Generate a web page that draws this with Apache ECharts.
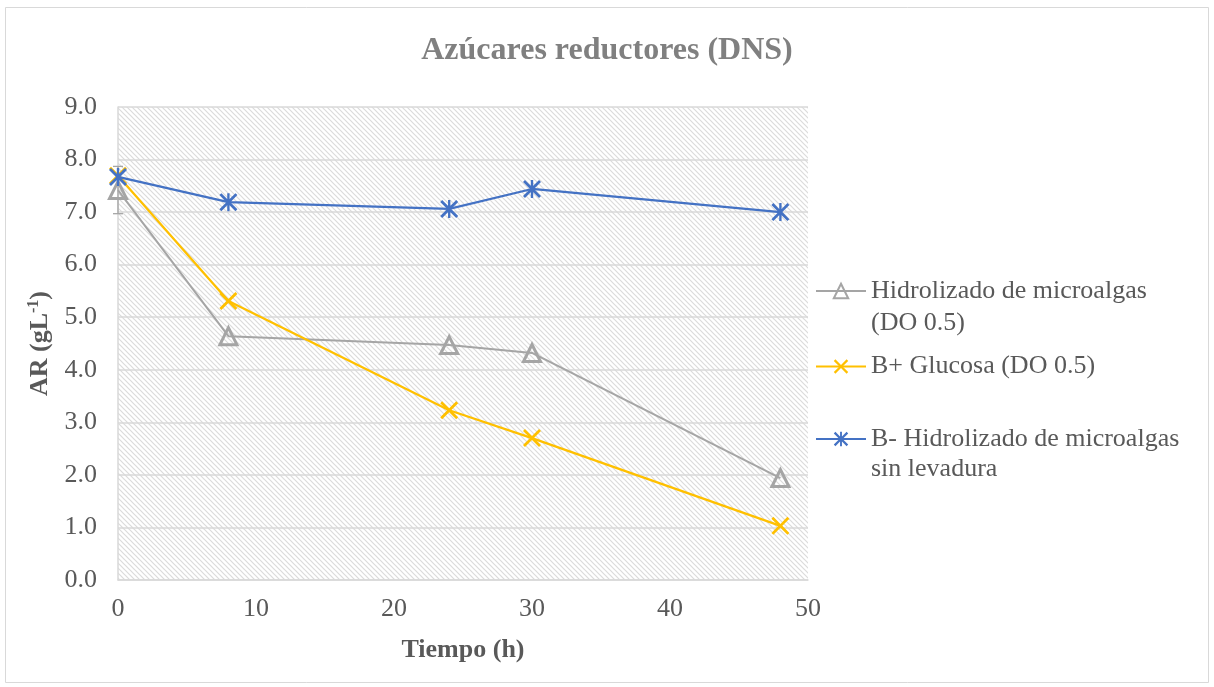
<!DOCTYPE html>
<html>
<head>
<meta charset="utf-8">
<script src="https://cdn.jsdelivr.net/npm/echarts@6/dist/echarts.min.js"></script>
<style>
html,body{margin:0;padding:0;background:#fff;}
#chart{width:1214px;height:687px;}
</style>
</head>
<body>
<div id="chart"></div>
<script>
// ---- data ----
const timeHours = [0, 8, 24, 30, 48];
const hidrolizado = [7.42, 4.64, 4.47, 4.32, 1.94];
const glucosa = [7.69, 5.31, 3.23, 2.70, 1.03];
const sinLevadura = [7.67, 7.19, 7.06, 7.44, 7.00];
const hidrolizadoErrAt0 = 0.45;
const seriesNames = ['Hidrolizado de microalgas\n(DO 0.5)', 'B+ Glucosa (DO 0.5)', 'B- Hidrolizado de microalgas\nsin levadura'];
const yTicks = [0, 1, 2, 3, 4, 5, 6, 7, 8, 9];
const xTicks = [0, 10, 20, 30, 40, 50];

// ---- hatch pattern ----
const pc = document.createElement('canvas');
pc.width = 5; pc.height = 5;
const g = pc.getContext('2d');
g.fillStyle = '#ffffff'; g.fillRect(0, 0, 5, 5);
g.strokeStyle = '#dbdbdb'; g.lineWidth = 1.2;
g.beginPath();
g.moveTo(-1, -1); g.lineTo(6, 6);
g.moveTo(-1, 4); g.lineTo(1, 6);
g.moveTo(4, -1); g.lineTo(6, 1);
g.stroke();

const FONT = '"Liberation Serif", "Times New Roman", serif';
const XPATH = 'path://M0,2.2 L2.2,0 L10,7.8 L17.8,0 L20,2.2 L12.2,10 L20,17.8 L17.8,20 L10,12.2 L2.2,20 L0,17.8 L7.8,10 Z';
const STARPATH = 'path://M0,2.2 L2.2,0 L10,7.8 L17.8,0 L20,2.2 L12.2,10 L20,17.8 L17.8,20 L10,12.2 L2.2,20 L0,17.8 L7.8,10 Z M8.7,0 L11.3,0 L11.3,20 L8.7,20 Z';

const pairs = (ys) => timeHours.map((t, i) => [t, ys[i]]);

const chart = echarts.init(document.getElementById('chart'), null, {renderer: 'canvas'});

function legendFor(name, top, lh) {
  return {
    show: true,
    orient: 'vertical',
    left: 815,
    top: top,
    padding: 0,
    itemWidth: 50,
    itemHeight: 18,
    itemGap: 0,
    data: [name],
    formatter: (n) => n.indexOf('\n') >= 0 ? '\n' + n : n,
    textStyle: {fontFamily: FONT, fontSize: 26, color: '#595959', lineHeight: lh}
  };
}

const option = {
  animation: false,
  backgroundColor: '#ffffff',
  title: {
    text: 'Azúcares reductores (DNS)',
    left: 'center',
    top: 30,
    textStyle: {fontFamily: FONT, fontSize: 32, fontWeight: 'bold', color: '#808080'}
  },
  graphic: [{
    type: 'rect',
    shape: {x: 5.5, y: 7.5, width: 1203, height: 675},
    style: {fill: 'none', stroke: '#d9d9d9', lineWidth: 1},
    silent: true,
    z: -10
  }],
  legend: [
    legendFor(seriesNames[0], 243, 32),
    legendFor(seriesNames[1], 351, 31),
    legendFor(seriesNames[2], 394, 30)
  ],
  grid: {
    left: 118, right: 406, top: 107, bottom: 107,
    show: true,
    backgroundColor: {image: pc, repeat: 'repeat'},
    borderWidth: 0
  },
  xAxis: {
    type: 'value',
    min: 0, max: 50, interval: 10,
    name: 'Tiempo (h)',
    nameLocation: 'middle',
    nameGap: 57,
    nameTextStyle: {fontFamily: FONT, fontSize: 26, fontWeight: 'bold', color: '#595959'},
    axisLine: {show: true, lineStyle: {color: '#d9d9d9', width: 1.5}},
    axisTick: {show: false},
    splitLine: {show: false},
    axisLabel: {fontFamily: FONT, fontSize: 26, color: '#595959', margin: 16,
      formatter: (v) => xTicks.indexOf(v) >= 0 ? String(v) : ''}
  },
  yAxis: {
    type: 'value',
    min: 0, max: 9, interval: 1,
    name: '{b|AR (gL}{s|-1}{b|)}',
    nameLocation: 'middle',
    nameRotate: 90,
    nameGap: 64,
    nameTextStyle: {
      rich: {
        b: {fontFamily: FONT, fontSize: 26, fontWeight: 'bold', color: '#595959', lineHeight: 28, verticalAlign: 'bottom'},
        s: {fontFamily: FONT, fontSize: 16, fontWeight: 'bold', color: '#595959', lineHeight: 28, verticalAlign: 'top', padding: [0, 0, 10, 0]}
      }
    },
    axisLine: {show: true, lineStyle: {color: '#d9d9d9', width: 1.5}},
    axisTick: {show: false},
    splitLine: {show: true, lineStyle: {color: '#d9d9d9', width: 1.5}},
    axisLabel: {fontFamily: FONT, fontSize: 26, color: '#595959', margin: 21,
      formatter: (v) => yTicks.indexOf(v) >= 0 ? v.toFixed(1) : ''}
  },
  series: [
    {
      name: seriesNames[0],
      type: 'line',
      data: pairs(hidrolizado),
      symbol: 'triangle',
      symbolSize: 17,
      showAllSymbol: true,
      lineStyle: {color: '#a5a5a5', width: 2},
      itemStyle: {color: 'rgba(255,255,255,0)', borderColor: '#a5a5a5', borderWidth: 3},
      z: 3
    },
    {
      name: 'errbar',
      type: 'custom',
      data: [[timeHours[0], hidrolizado[0] - hidrolizadoErrAt0, hidrolizado[0] + hidrolizadoErrAt0]],
      renderItem: function (params, api) {
        const lo = api.coord([api.value(0), api.value(1)]);
        const hi = api.coord([api.value(0), api.value(2)]);
        const w = 5;
        const st = {stroke: '#a5a5a5', lineWidth: 1.3, fill: 'none'};
        return {
          type: 'group',
          children: [
            {type: 'line', shape: {x1: lo[0], y1: lo[1], x2: hi[0], y2: hi[1]}, style: st},
            {type: 'line', shape: {x1: lo[0] - w, y1: lo[1], x2: lo[0] + w, y2: lo[1]}, style: st},
            {type: 'line', shape: {x1: hi[0] - w, y1: hi[1], x2: hi[0] + w, y2: hi[1]}, style: st}
          ]
        };
      },
      z: 2,
      silent: true
    },
    {
      name: seriesNames[1],
      type: 'line',
      data: pairs(glucosa),
      symbol: XPATH,
      symbolSize: 18,
      showAllSymbol: true,
      lineStyle: {color: '#ffc000', width: 2.25},
      itemStyle: {color: '#ffc000'},
      z: 4
    },
    {
      name: seriesNames[2],
      type: 'line',
      data: pairs(sinLevadura),
      symbol: STARPATH,
      symbolSize: 18,
      showAllSymbol: true,
      lineStyle: {color: '#4472c4', width: 2.25},
      itemStyle: {color: '#4472c4'},
      z: 5
    }
  ]
};
chart.setOption(option);
</script>
</body>
</html>
